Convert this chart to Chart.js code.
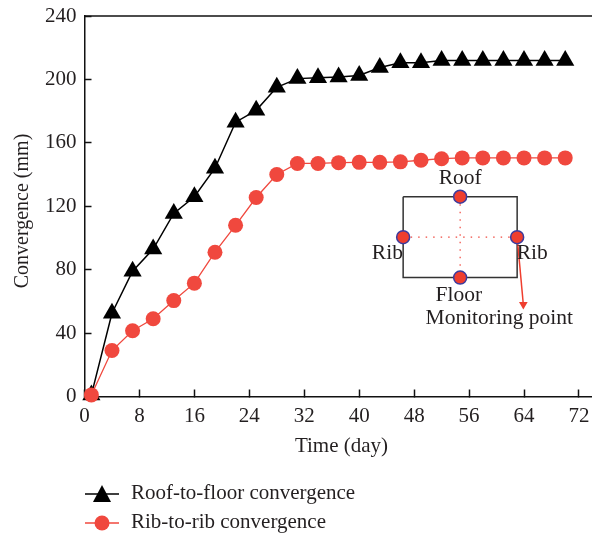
<!DOCTYPE html>
<html>
<head>
<meta charset="utf-8">
<script src="https://cdn.jsdelivr.net/npm/chart.js@4"></script>
<style>
  html, body { margin: 0; padding: 0; background: #fff; }
  canvas { display: block; }
</style>
</head>
<body>
<canvas id="grafico" width="592" height="535"></canvas>
<script>
const dias = [1, 4, 7, 10, 13, 16, 19, 22, 25, 28, 31, 34, 37, 40, 43, 46, 49, 52, 55, 58, 61, 64, 67, 70];
const tetoPiso = [1, 52.5, 79, 93, 115.5, 126, 144, 173, 180.5, 195, 200.5, 201, 201.5, 202.5, 207.5, 210.5, 210.5, 212, 212, 212, 212, 212, 212, 212];
const ribRib = [1, 29, 41.5, 49, 60.5, 71.5, 91, 108, 125.5, 140, 147, 147, 147.5, 147.7, 147.7, 148, 149, 150, 150.5, 150.5, 150.5, 150.5, 150.5, 150.5];

// esquema interno (coordenadas em dia / mm)
const retangulo = [[46.4, 126], [63, 126], [63, 75], [46.4, 75], [46.4, 126]];
const linhaVertical = [[54.7, 126], [54.7, 75]];
const linhaHorizontal = [[46.4, 100.5], [63, 100.5]];
const pontosMonitor = [[54.7, 126], [46.4, 100.5], [63, 100.5], [54.7, 75]];
const seta = [[63, 100.5], [63.9, 58]];
const rotulos = [
  ['Roof', 54.7, 137.5],
  ['Rib', 44.1, 90],
  ['Rib', 65.2, 90],
  ['Floor', 54.5, 63.5],
  ['Monitoring point', 60.4, 49.5]
];

const VERMELHO = '#f0483e';
const FONTE = '"Liberation Serif", serif';
const TEXTO = '#231f20';

const xy = l => l.map(p => ({ x: p[0], y: p[1] }));
const serie = v => v.map((y, i) => ({ x: dias[i], y }));

const extras = {
  id: 'extras',
  afterDraw(chart) {
    const { ctx, scales: { x, y }, chartArea: a } = chart;
    ctx.save();

    // borda superior
    ctx.strokeStyle = '#111';
    ctx.lineWidth = 1.5;
    ctx.beginPath();
    ctx.moveTo(a.left, a.top);
    ctx.lineTo(a.right, a.top);
    ctx.stroke();

    // rotulos do esquema
    ctx.fillStyle = TEXTO;
    ctx.font = '21.5px ' + FONTE;
    ctx.textAlign = 'center';
    ctx.textBaseline = 'middle';
    rotulos.forEach(r => ctx.fillText(r[0], x.getPixelForValue(r[1]), y.getPixelForValue(r[2])));

    // titulos dos eixos
    ctx.font = '21px ' + FONTE;
    ctx.fillText('Time (day)', 341.5, 446);
    ctx.save();
    ctx.translate(23, 211);
    ctx.rotate(-Math.PI / 2);
    ctx.font = '20px ' + FONTE;
    ctx.fillText('Convergence (mm)', 0, 0);
    ctx.restore();

    // legenda
    ctx.font = '21px ' + FONTE;
    ctx.textAlign = 'left';
    const legenda = [
      { t: 'Roof-to-floor convergence', py: 494, c: '#000', m: 'tri' },
      { t: 'Rib-to-rib convergence', py: 523, c: VERMELHO, m: 'cir' }
    ];
    legenda.forEach(l => {
      ctx.strokeStyle = l.c;
      ctx.fillStyle = l.c;
      ctx.lineWidth = 1.5;
      ctx.beginPath();
      ctx.moveTo(85, l.py);
      ctx.lineTo(119, l.py);
      ctx.stroke();
      ctx.beginPath();
      if (l.m === 'tri') {
        ctx.moveTo(102, l.py - 9);
        ctx.lineTo(111, l.py + 8);
        ctx.lineTo(93, l.py + 8);
        ctx.closePath();
      } else {
        ctx.arc(102, l.py, 7.5, 0, Math.PI * 2);
      }
      ctx.fill();
      ctx.fillStyle = TEXTO;
      ctx.fillText(l.t, 131, l.py - 1);
    });
    ctx.restore();
  }
};

new Chart(document.getElementById('grafico'), {
  type: 'scatter',
  plugins: [extras],
  data: {
    datasets: [
      {
        label: 'Monitoring points',
        data: xy(pontosMonitor),
        showLine: false,
        pointRadius: 6.5,
        pointBackgroundColor: '#ef3e2e',
        pointBorderColor: '#3b3b9e',
        pointBorderWidth: 1.5,
        order: 0
      },
      {
        label: 'Arrow',
        data: xy(seta),
        showLine: true,
        borderColor: '#ef3e2e',
        borderWidth: 1.5,
        pointStyle: 'triangle',
        pointRotation: 180,
        pointRadius: [0, 5],
        pointBackgroundColor: '#ef3e2e',
        pointBorderWidth: 0,
        order: 1
      },
      {
        label: 'Rectangle',
        data: xy(retangulo),
        showLine: true,
        borderColor: '#333',
        borderWidth: 1.5,
        pointRadius: 0,
        order: 3
      },
      {
        label: 'Vertical',
        data: xy(linhaVertical),
        showLine: true,
        borderColor: '#f0483e',
        borderWidth: 1.2,
        borderDash: [1.5, 6],
        pointRadius: 0,
        order: 2
      },
      {
        label: 'Horizontal',
        data: xy(linhaHorizontal),
        showLine: true,
        borderColor: '#f0483e',
        borderWidth: 1.2,
        borderDash: [1.5, 6],
        pointRadius: 0,
        order: 2
      },
      {
        label: 'Rib-to-rib convergence',
        data: serie(ribRib),
        showLine: true,
        borderColor: VERMELHO,
        borderWidth: 1.3,
        pointRadius: 7.5,
        pointBackgroundColor: VERMELHO,
        pointBorderWidth: 0,
        order: 4
      },
      {
        label: 'Roof-to-floor convergence',
        data: serie(tetoPiso),
        showLine: true,
        borderColor: '#000',
        borderWidth: 1.5,
        pointStyle: 'triangle',
        pointRadius: 10.5,
        pointBackgroundColor: '#000',
        pointBorderWidth: 0,
        order: 5
      }
    ]
  },
  options: {
    responsive: false,
    animation: false,
    clip: false,
    layout: { autoPadding: false, padding: { top: 16, left: 0, right: 0, bottom: 0 } },
    plugins: { legend: { display: false }, tooltip: { enabled: false } },
    scales: {
      x: {
        type: 'linear',
        min: 0,
        max: 73.9,
        afterFit: s => { s.height = 138.5; s.paddingLeft = 0; s.paddingRight = 0; },
        grid: { drawOnChartArea: false, tickLength: -7, tickWidth: 1.5, tickColor: '#111' },
        border: { color: '#111', width: 1.5 },
        ticks: {
          stepSize: 8,
          includeBounds: false,
          maxRotation: 0,
          padding: 14,
          color: TEXTO,
          font: { family: FONTE, size: 21 }
        }
      },
      y: {
        min: 0,
        max: 240,
        afterFit: s => { s.width = 84.5; s.paddingTop = 0; s.paddingBottom = 0; },
        grid: { drawOnChartArea: false, tickLength: -7, tickWidth: 1.5, tickColor: '#111' },
        border: { color: '#111', width: 1.5 },
        ticks: {
          stepSize: 40,
          padding: 15,
          color: TEXTO,
          font: { family: FONTE, size: 21 }
        }
      }
    }
  }
});
</script>
</body>
</html>
